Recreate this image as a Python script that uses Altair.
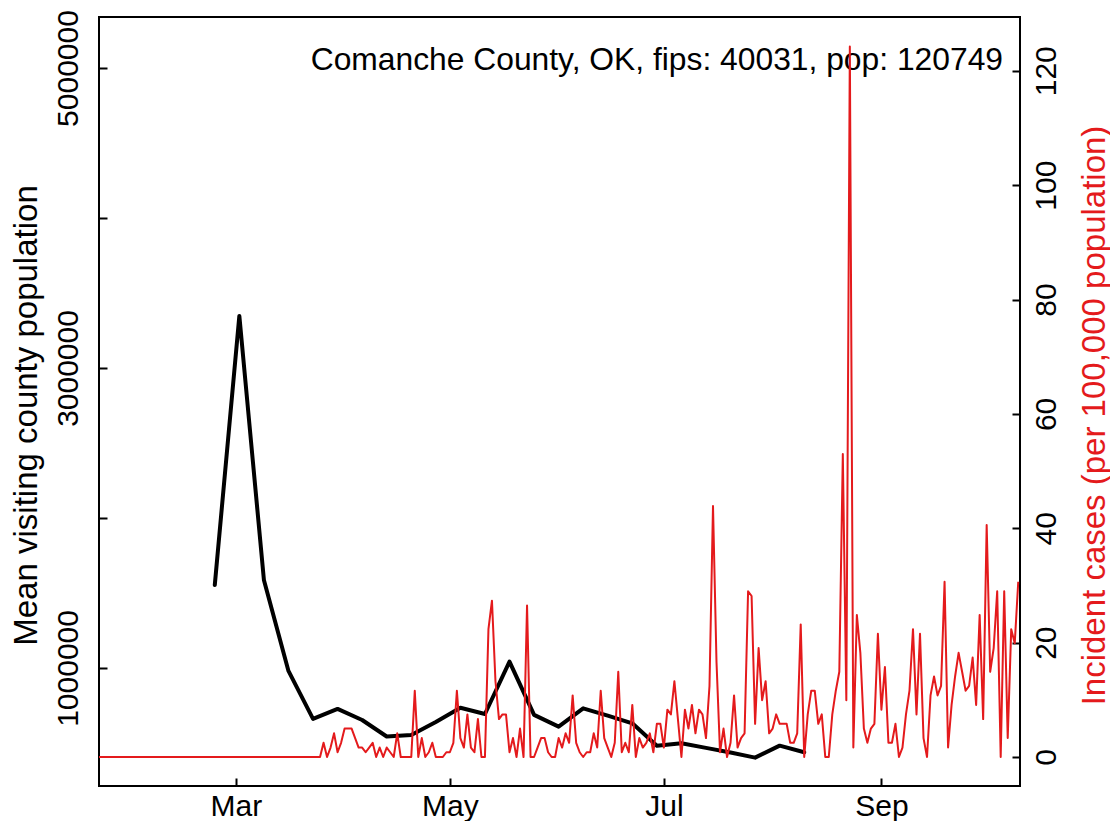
import altair as alt
import pandas as pd

FONT = "Liberation Sans"
RED = "#E41A1C"

title_text = "Comanche County, OK, fips: 40031, pop: 120749"
population = 120749

# weekly mean visiting county population (black line)
week_dates = [
    "2020-02-24", "2020-03-02", "2020-03-09", "2020-03-16", "2020-03-23",
    "2020-03-30", "2020-04-06", "2020-04-13", "2020-04-20", "2020-04-27",
    "2020-05-04", "2020-05-11", "2020-05-18", "2020-05-25", "2020-06-01",
    "2020-06-08", "2020-06-15", "2020-06-22", "2020-06-29", "2020-07-06",
    "2020-07-13", "2020-07-20", "2020-07-27", "2020-08-03", "2020-08-10",
]
visit_pop = [
    1553000, 3347000, 1587000, 980000, 660000,
    727000, 653000, 543000, 553000, 640000,
    735000, 693000, 1042000, 687000, 609000,
    731000, 682000, 631000, 482000, 498000,
    467000, 436000, 402000, 482000, 438000,
]

# daily incident cases (counts), 2020-01-22 .. 2020-10-10
cases_start = "2020-01-22"
cases_jan = [0, 0, 0, 0, 0, 0, 0, 0, 0, 0]
cases_feb = [0, 0, 0, 0, 0, 0, 0, 0, 0, 0, 0, 0, 0, 0, 0, 0, 0, 0, 0, 0,
             0, 0, 0, 0, 0, 0, 0, 0, 0]
cases_mar = [0, 0, 0, 0, 0, 0, 0, 0, 0, 0, 0, 0, 0, 0, 0, 0, 0, 0, 0, 0,
             0, 0, 0, 0, 0, 3, 0, 2, 5, 1, 3]
cases_apr = [6, 6, 6, 4, 2, 2, 1, 2, 3, 0, 2, 0, 2, 1, 0, 5, 0, 0, 0, 0,
             14, 0, 4, 0, 1, 3, 0, 0, 0, 1]
cases_may = [1, 3, 14, 4, 2, 9, 2, 1, 8, 0, 0, 27, 33, 16, 8, 9, 9, 1, 4, 0,
             6, 0, 32, 0, 0, 2, 4, 4, 1, 0, 0]
cases_jun = [4, 2, 5, 3, 13, 3, 1, 0, 1, 1, 5, 2, 14, 4, 2, 0, 3, 18, 1, 3,
             1, 11, 0, 4, 2, 3, 5, 1, 7, 7]
cases_jul = [2, 10, 9, 16, 8, 0, 10, 6, 11, 5, 10, 9, 4, 15, 53, 20, 1, 6, 0, 3,
             13, 2, 4, 5, 35, 34, 7, 23, 12, 16, 5]
cases_aug = [6, 9, 7, 7, 7, 3, 3, 5, 28, 0, 9, 14, 14, 7, 9, 0, 0, 9, 14, 18,
             64, 12, 150, 2, 30, 22, 6, 3, 6, 7, 26]
cases_sep = [10, 19, 3, 3, 7, 0, 2, 9, 14, 27, 9, 26, 4, 0, 13, 17, 13, 15, 37, 2,
             11, 17, 22, 18, 14, 15, 21, 11, 30, 8]
cases_oct = [49, 18, 23, 35, 0, 35, 4, 27, 24, 37]

daily_cases = (cases_jan + cases_feb + cases_mar + cases_apr + cases_may +
               cases_jun + cases_jul + cases_aug + cases_sep + cases_oct)

day_index = pd.date_range(cases_start, periods=len(daily_cases), freq="D")
df_red = pd.DataFrame({
    "date": [d.strftime("%Y-%m-%dT00:00:00") for d in day_index],
    "incidence": [c / population * 100000 for c in daily_cases],
})
df_black = pd.DataFrame({
    "date": [d + "T00:00:00" for d in week_dates],
    "visit": visit_pop,
})
df_title = pd.DataFrame({"t": [title_text]})

x_scale = alt.Scale(
    domain=[alt.DateTime(year=2020, month=1, date=22),
            alt.DateTime(year=2020, month=10, date=10, hours=12)],
    nice=False,
)
x_axis = alt.Axis(
    values=[alt.DateTime(year=2020, month=m, date=1) for m in (3, 5, 7, 9)],
    format="%b", labelFont=FONT, labelFontSize=30, labelColor="black",
    labelAngle=0, labelAlign="center", labelBaseline="alphabetic",
    labelPadding=29, offset=-8, tickSize=8, tickWidth=2, tickColor="black",
    domain=False, grid=False, title=None, labelFlush=False, labelOverlap=False,
)
left_axis = alt.Axis(
    orient="left",
    values=[1000000, 2000000, 3000000, 4000000, 5000000],
    labelExpr="datum.value % 2000000 == 1000000 ? format(datum.value, 'd') : ''",
    labelFont=FONT, labelFontSize=30, labelColor="black",
    labelAngle=270, labelAlign="center", labelBaseline="alphabetic",
    labelPadding=22, offset=-8, tickSize=8, tickWidth=2, tickColor="black",
    domain=False, grid=False, labelFlush=False, labelOverlap=False,
    title="Mean visiting county population", titleFont=FONT, titleFontSize=33,
    titleFontWeight="normal", titleColor="black", titleAngle=270,
    titleAlign="center", titleBaseline="alphabetic", titleX=-71, titleY=398,
)
right_axis = alt.Axis(
    orient="right",
    values=[0, 20, 40, 60, 80, 100, 120],
    format="d",
    labelFont=FONT, labelFontSize=30, labelColor="black",
    labelAngle=270, labelAlign="center", labelBaseline="alphabetic",
    labelPadding=35, offset=-8, tickSize=8, tickWidth=2, tickColor="black",
    domain=False, grid=False, labelFlush=False, labelOverlap=False,
    title="Incident cases (per 100,000 population)", titleFont=FONT,
    titleFontSize=33, titleFontWeight="normal", titleColor=RED, titleAngle=270,
    titleAlign="center", titleBaseline="alphabetic", titleX=92, titleY=398,
)

black = alt.Chart(df_black).mark_line(
    color="black", strokeWidth=4, strokeJoin="round", strokeCap="round"
).encode(
    x=alt.X("date:T", scale=x_scale, axis=x_axis),
    y=alt.Y("visit:Q", scale=alt.Scale(domain=[213000, 5340000], nice=False, zero=False),
            axis=left_axis),
)

title_layer = alt.Chart(df_title).mark_text(
    align="right", baseline="alphabetic", font=FONT, fontSize=31.8, color="black"
).encode(
    text="t:N",
    x=alt.value(904),
    y=alt.value(53),
)

red = alt.Chart(df_red).mark_line(
    color=RED, strokeWidth=2, strokeJoin="round"
).encode(
    x=alt.X("date:T", scale=x_scale, axis=x_axis),
    y=alt.Y("incidence:Q", scale=alt.Scale(domain=[-5.07, 129.4], nice=False, zero=False),
            axis=right_axis),
)

chart = alt.layer(black, title_layer, red).resolve_scale(
    y="independent"
).properties(
    width=921, height=769,
    autosize=alt.AutoSizeParams(type="none"),
    padding={"left": 91, "top": 9, "right": 90, "bottom": 35},
    background="white",
).configure_view(
    stroke="black", strokeWidth=2
)

chart.save("out.html", embed_options={"renderer": "svg", "actions": False})
